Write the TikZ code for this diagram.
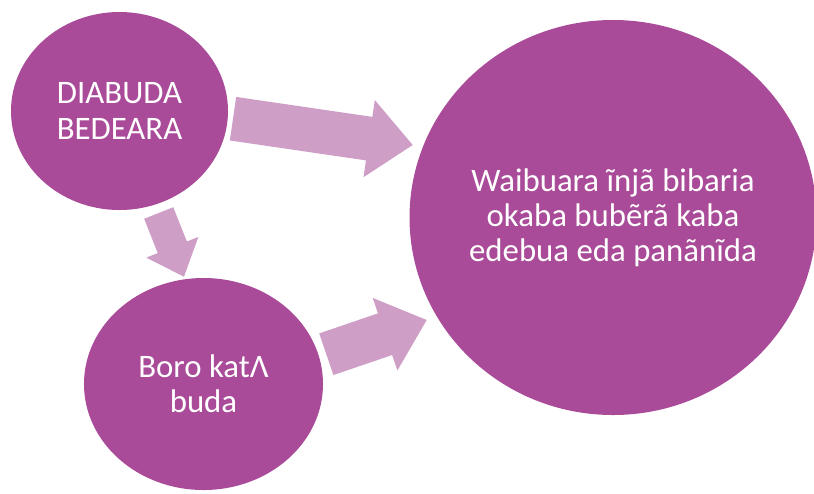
\documentclass[tikz,border=0pt]{standalone}
\usepackage{fontspec}
\setmainfont{Carlito}
\usetikzlibrary{shapes.geometric,calc}
\definecolor{bubble}{HTML}{A94B98}
\definecolor{pinkarrow}{HTML}{CF9EC7}

\begin{document}
\begin{tikzpicture}[
        x=0.03cm, y=-0.03cm,
        every node/.style={
            ellipse,
            fill=bubble,
            text=white,
            inner sep=0pt,
            align=center,
            font=\fontsize{28}{30}\selectfont
        },
        blockarrow/.style={fill=pinkarrow}
    ]
        \useasboundingbox (0,0) rectangle (814,493);

        % Bubbles
        \node (dia) [minimum width=6.51cm, minimum height=5.94cm] at (119.5,111) {DIABUDA\\BEDEARA};
        \node (boro) [minimum width=7.17cm, minimum height=6.36cm] at (203.5,384) {Boro katΛ\\buda};
        \node (wai) [minimum width=12.18cm, minimum height=11.85cm] at (613,217.5) {Waibuara ĩnjã bibaria\\okaba bubẽrã kaba\\edebua eda panãnĩda};

        % Arrow ends
        \coordinate (top s) at (233,118.7);
        \coordinate (top e) at (412.7,145);
        \coordinate (top h) at ($(top e)!1.32cm!(top s)$);
        \coordinate (down s) at (158.7,213);
        \coordinate (down e) at (184,276.7);
        \coordinate (down h) at ($(down e)!0.95cm!(down s)$);
        \coordinate (low s) at (326.3,354.2);
        \coordinate (low e) at (426.7,320);
        \coordinate (low h) at ($(low e)!1.32cm!(low s)$);

        % Arrows
        \fill[blockarrow] ($(top s)!0.66cm!90:(top e)$) -- ($(top h)!0.66cm!90:(top e)$)
            -- ($(top h)!1.17cm!90:(top e)$) -- (top e) -- ($(top h)!1.17cm!-90:(top e)$)
            -- ($(top h)!0.66cm!-90:(top e)$) -- ($(top s)!0.66cm!-90:(top e)$) -- cycle;
        \fill[blockarrow] ($(down s)!0.47cm!90:(down e)$) -- ($(down h)!0.47cm!90:(down e)$)
            -- ($(down h)!0.84cm!90:(down e)$) -- (down e) -- ($(down h)!0.84cm!-90:(down e)$)
            -- ($(down h)!0.47cm!-90:(down e)$) -- ($(down s)!0.47cm!-90:(down e)$) -- cycle;
        \fill[blockarrow] ($(low s)!0.66cm!90:(low e)$) -- ($(low h)!0.66cm!90:(low e)$)
            -- ($(low h)!1.15cm!90:(low e)$) -- (low e) -- ($(low h)!1.15cm!-90:(low e)$)
            -- ($(low h)!0.66cm!-90:(low e)$) -- ($(low s)!0.66cm!-90:(low e)$) -- cycle;
    \end{tikzpicture}
\end{document}
